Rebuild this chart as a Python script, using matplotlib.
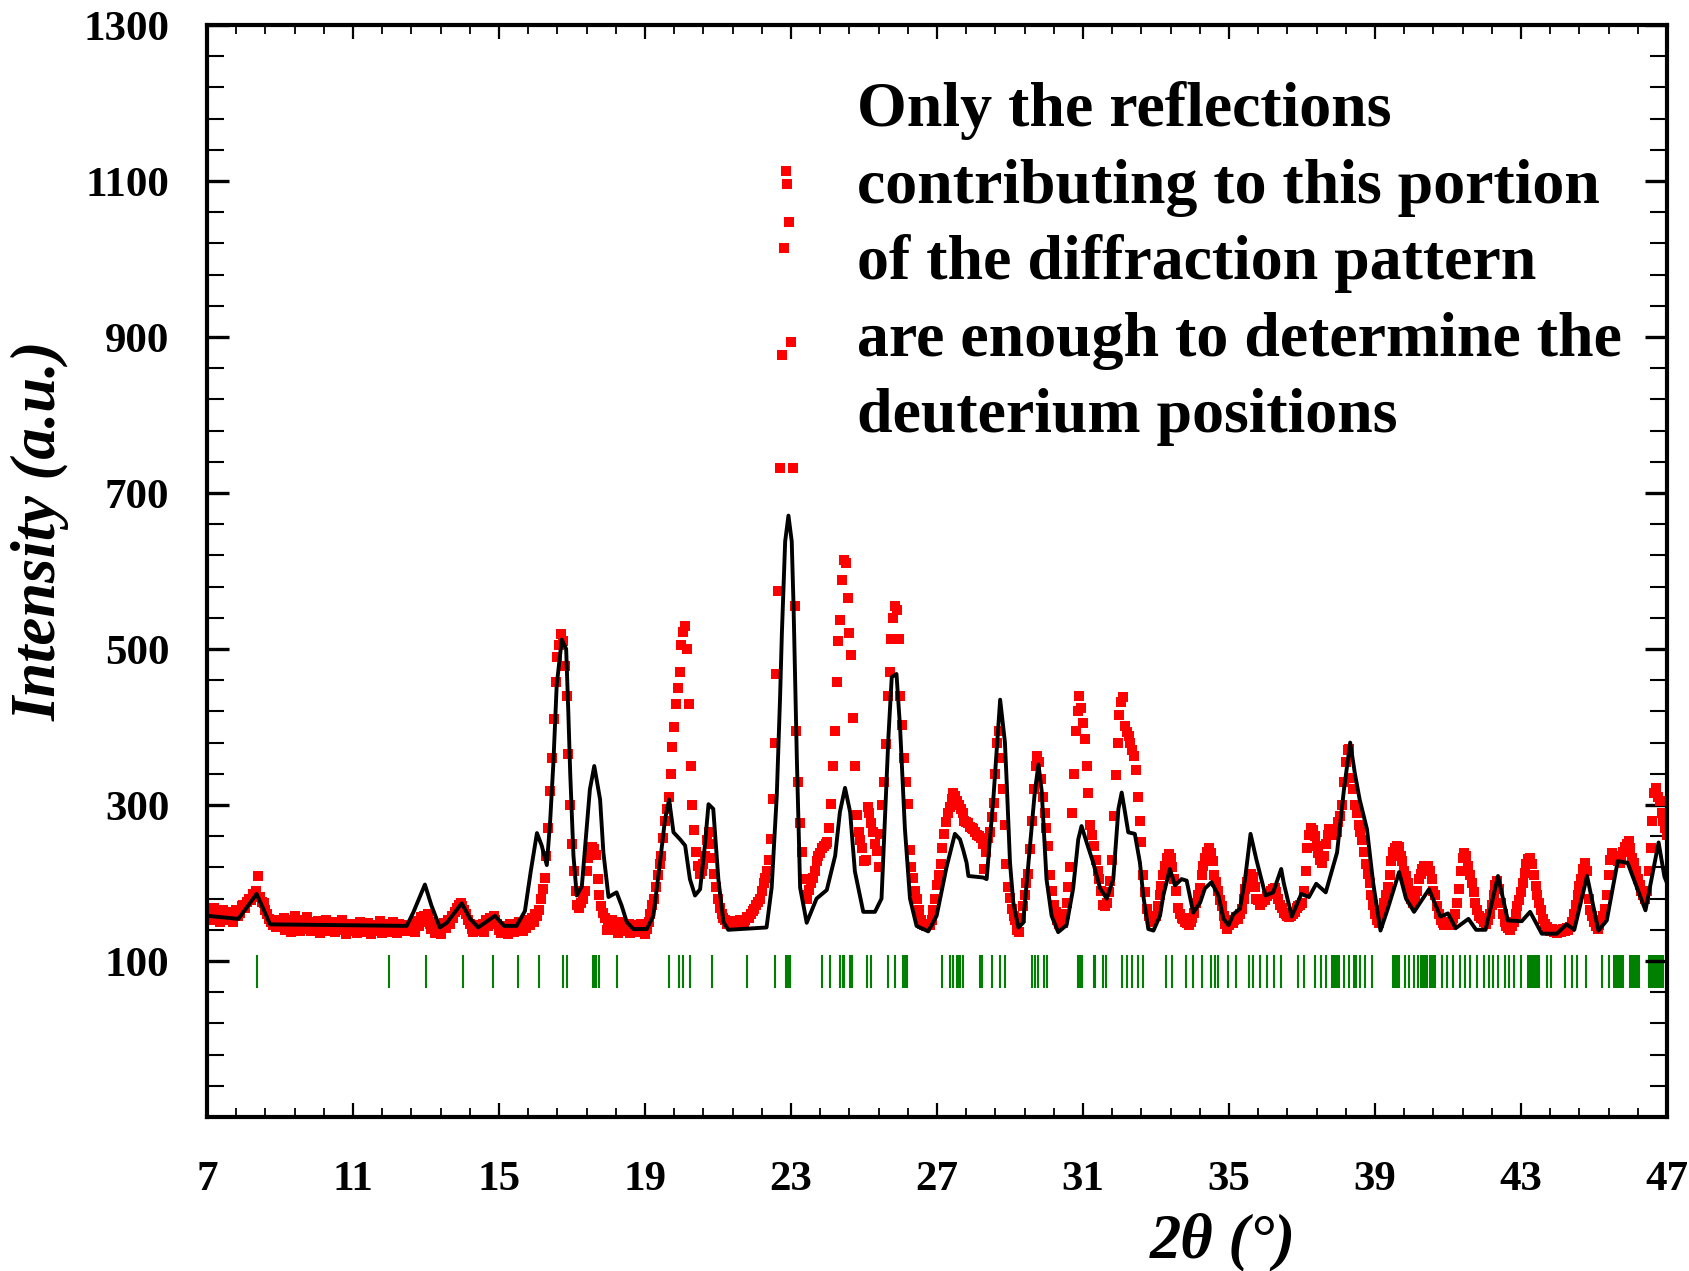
import numpy as np
import matplotlib
matplotlib.use("Agg")
import matplotlib.pyplot as plt
from matplotlib.ticker import FixedLocator

# observed neutron pattern, 7-47 deg in 0.05 deg steps
scan_start, scan_step = 7.0, 0.05
obs_int = [
    158, 165, 152, 160, 168, 155, 162, 150, 158, 166,   # 7.0
    160, 152, 163, 157, 150, 161, 166, 158, 162, 170,
    172, 168, 176, 180, 178, 186, 184, 190, 209, 182,   # 8.0
    176, 175, 166, 160, 154, 150, 146, 152, 144, 148,
    150, 146, 155, 140, 148, 152, 137, 145, 158, 143,   # 9.0
    149, 139, 153, 147, 141, 156, 144, 138, 150, 146,
    142, 151, 136, 148, 144, 153, 139, 147, 141, 150,   # 10.0
    137, 145, 149, 140, 152, 143, 135, 147, 142, 138,
    148, 141, 136, 146, 150, 139, 144, 137, 149, 142,   # 11.0
    135, 146, 140, 144, 138, 151, 136, 143, 147, 139,
    145, 137, 150, 141, 136, 148, 142, 138, 146, 140,   # 12.0
    138, 144, 140, 147, 137, 151, 145, 156, 150, 158,
    154, 160, 148, 141, 150, 136, 146, 140, 135, 144,   # 13.0
    149, 142, 152, 147, 158, 155, 163, 168, 172, 175,
    170, 166, 160, 153, 147, 141, 137, 144, 139, 146,   # 14.0
    141, 148, 137, 152, 145, 155, 150, 158, 152, 147,
    140, 136, 145, 139, 143, 135, 148, 141, 137, 146,   # 15.0
    140, 150, 143, 138, 148, 142, 152, 146, 155, 150,
    160, 158, 165, 180, 192, 206, 235, 270, 318, 360,   # 16.0
    410, 458, 490, 505, 519, 510, 478, 440, 365, 300,
    250, 215, 190, 172, 168, 175, 180, 190, 215, 232,   # 17.0
    240, 246, 244, 236, 205, 185, 170, 162, 155, 140,
    148, 143, 152, 140, 147, 136, 142, 150, 138, 145,   # 18.0
    140, 148, 136, 143, 139, 146, 137, 142, 148, 138,
    135, 141, 150, 160, 172, 180, 195, 210, 225, 235,   # 19.0
    258, 280, 295, 310, 340, 375, 400, 430, 450, 470,
    505, 522, 530, 500, 430, 350, 300, 268, 240, 222,   # 20.0
    212, 215, 225, 235, 255, 266, 250, 232, 212, 195,
    180, 168, 160, 155, 152, 148, 150, 146, 151, 147,   # 21.0
    150, 146, 152, 148, 150, 153, 157, 155, 160, 164,
    167, 172, 176, 180, 190, 200, 207, 215, 230, 256,   # 22.0
    308, 379, 468, 575, 732, 877, 1014, 1113, 1096, 1048,
    893, 732, 555, 395, 330, 277, 240, 205, 185, 180,   # 23.0
    191, 200, 207, 215, 228, 235, 238, 245, 248, 250,
    252, 270, 301, 350, 395, 458, 510, 537, 589, 614,   # 24.0
    610, 565, 520, 492, 412, 350, 287, 265, 255, 245,
    228, 230, 298, 290, 277, 265, 250, 241, 220, 263,   # 25.0
    300, 330, 378, 440, 470, 513, 540, 555, 550, 513,
    440, 402, 360, 330, 301, 242, 220, 207, 190, 180,   # 26.0
    165, 152, 148, 146, 145, 147, 146, 152, 165, 180,
    198, 210, 225, 245, 263, 278, 290, 298, 308, 315,   # 27.0
    312, 305, 300, 295, 290, 280, 278, 277, 272, 270,
    269, 265, 262, 260, 258, 250, 218, 240, 258, 265,   # 28.0
    285, 303, 340, 380, 395, 360, 320, 275, 225, 195,
    181, 167, 158, 152, 140, 137, 155, 170, 184, 200,   # 29.0
    211, 243, 280, 320, 350, 363, 355, 333, 310, 290,
    270, 248, 210, 190, 172, 163, 152, 148, 150, 149,   # 30.0
    160, 175, 195, 220, 290, 340, 395, 420, 440, 425,
    405, 385, 350, 315, 275, 262, 248, 230, 215, 205,   # 31.0
    190, 172, 170, 175, 188, 203, 230, 286, 339, 380,
    415, 432, 438, 401, 393, 388, 380, 370, 363, 345,   # 32.0
    310, 280, 252, 210, 188, 167, 158, 154, 150, 156,
    158, 170, 185, 196, 210, 222, 232, 237, 232, 220,   # 33.0
    205, 190, 168, 160, 155, 154, 150, 149, 146, 150,
    155, 162, 175, 185, 194, 210, 222, 232, 240, 245,   # 34.0
    238, 228, 210, 201, 190, 178, 170, 158, 148, 141,
    146, 150, 149, 152, 156, 154, 160, 167, 180, 192,   # 35.0
    201, 205, 211, 208, 195, 180, 178, 172, 176, 180,
    178, 183, 186, 190, 192, 194, 188, 180, 172, 168,   # 36.0
    162, 160, 158, 156, 158, 160, 163, 168, 170, 172,
    175, 190, 215, 245, 262, 270, 268, 260, 248, 238,   # 37.0
    230, 226, 235, 250, 262, 269, 268, 263, 261, 265,
    278, 286, 300, 330, 355, 370, 372, 335, 320, 300,   # 38.0
    290, 275, 265, 255, 240, 225, 212, 200, 185, 172,
    160, 152, 149, 155, 165, 175, 184, 195, 210, 228,   # 39.0
    240, 245, 248, 246, 235, 228, 215, 209, 200, 190,
    180, 175, 178, 190, 205, 212, 218, 222, 220, 222,   # 40.0
    215, 205, 190, 184, 170, 160, 152, 149, 146, 150,
    148, 146, 150, 155, 160, 175, 192, 215, 232, 238,   # 41.0
    235, 222, 210, 200, 188, 175, 166, 158, 155, 154,
    150, 148, 152, 160, 172, 185, 198, 202, 192, 175,   # 42.0
    160, 150, 145, 142, 140, 145, 150, 160, 170, 178,
    188, 200, 213, 225, 231, 232, 225, 210, 196, 185,   # 43.0
    175, 165, 154, 148, 143, 140, 138, 141, 137, 140,
    136, 139, 137, 141, 138, 142, 140, 143, 150, 160,   # 44.0
    172, 185, 196, 205, 218, 226, 215, 179, 165, 158,
    150, 145, 141, 146, 152, 158, 167, 185, 210, 230,   # 45.0
    239, 235, 232, 228, 226, 230, 240, 246, 250, 254,
    245, 232, 226, 215, 205, 198, 190, 185, 180, 190,   # 46.0
    215, 245, 280, 315, 322, 310, 305, 290, 280, 270,
    262,
]

# calculated profile
calc_2theta = [
    7.0, 7.86, 8.36, 8.73, 12.47, 12.65, 12.97, 13.15, 13.38, 13.57,
    13.98, 14.21, 14.43, 14.89, 15.14, 15.48, 15.71, 15.87, 16.04, 16.17,
    16.31, 16.40, 16.49, 16.58, 16.72, 16.84, 16.90, 16.95, 17.04, 17.13,
    17.27, 17.40, 17.49, 17.61, 17.77, 17.86, 18.0, 18.22, 18.36, 18.50,
    18.68, 19.05, 19.23, 19.41, 19.55, 19.66, 19.78, 19.96, 20.10, 20.23,
    20.37, 20.51, 20.64, 20.74, 20.87, 21.01, 21.15, 21.28, 22.33, 22.47,
    22.61, 22.70, 22.75, 22.84, 22.93, 23.02, 23.07, 23.16, 23.25, 23.43,
    23.70, 23.98, 24.21, 24.34, 24.48, 24.62, 24.75, 24.98, 25.30, 25.48,
    25.67, 25.76, 25.89, 25.99, 26.12, 26.26, 26.44, 26.76, 26.99, 27.26,
    27.49, 27.63, 27.72, 27.81, 27.86, 28.27, 28.36, 28.55, 28.73, 28.86,
    28.91, 29.0, 29.09, 29.23, 29.36, 29.55, 29.68, 29.78, 29.87, 30.0,
    30.14, 30.32, 30.55, 30.73, 30.87, 30.96, 31.10, 31.28, 31.47, 31.65,
    31.83, 31.97, 32.06, 32.15, 32.24, 32.42, 32.56, 32.65, 32.79, 32.93,
    33.11, 33.20, 33.38, 33.52, 33.70, 33.84, 34.02, 34.21, 34.34, 34.52,
    34.71, 34.85, 34.99, 35.12, 35.30, 35.44, 35.59, 35.75, 36.0, 36.21,
    36.43, 36.50, 36.72, 36.98, 37.19, 37.39, 37.65, 37.96, 38.15, 38.32,
    38.45, 38.58, 38.78, 38.95, 39.15, 39.35, 39.66, 39.85, 40.07, 40.48,
    40.79, 41.0, 41.21, 41.56, 41.77, 42.03, 42.37, 42.64, 43.02, 43.25,
    43.57, 43.98, 44.25, 44.46, 44.81, 45.12, 45.35, 45.65, 45.92, 46.41,
    46.77, 46.93, 47.0,
]
calc_int = [
    158, 154, 186, 147, 145, 162, 198, 171, 143, 149,
    174, 154, 143, 158, 145, 145, 164, 215, 264, 248,
    223, 278, 354, 453, 512, 500, 418, 342, 235, 184,
    196, 269, 320, 350, 307, 239, 182, 188, 171, 150,
    141, 141, 158, 226, 282, 307, 265, 256, 248, 205,
    184, 192, 248, 301, 295, 205, 150, 140, 143, 194,
    312, 437, 520, 638, 671, 638, 555, 360, 194, 149,
    180, 191, 235, 291, 322, 291, 215, 163, 163, 180,
    388, 464, 468, 398, 270, 180, 145, 138, 158, 220,
    263, 256, 242, 226, 209, 207, 205, 312, 435, 381,
    329, 226, 175, 143, 149, 248, 317, 352, 317, 205,
    158, 137, 146, 193, 256, 273, 252, 226, 193, 180,
    205, 295, 316, 291, 265, 263, 226, 184, 141, 139,
    158, 184, 218, 197, 205, 203, 162, 175, 193, 201,
    184, 154, 146, 160, 167, 205, 263, 230, 184, 188,
    218, 200, 157, 186, 182, 199, 188, 239, 320, 380,
    340, 307, 269, 200, 139, 167, 214, 180, 163, 192,
    157, 161, 142, 154, 140, 140, 209, 152, 151, 163,
    135, 135, 147, 140, 209, 139, 152, 228, 226, 165,
    252, 208, 200,
]

# reflection positions
bragg_2theta = [
    8.38, 12.0, 13.01, 14.02, 14.84, 15.51, 16.09, 16.74, 16.86, 17.58,
    17.62, 17.66, 17.75, 18.24, 19.66, 19.92, 20.03, 20.22, 20.83, 21.79,
    22.56, 22.87, 22.91, 22.96, 23.84, 24.07, 24.35, 24.42, 24.46, 24.62,
    24.65, 24.68, 25.08, 25.19, 25.67, 25.85, 26.08, 26.13, 26.17, 27.13,
    27.36, 27.43, 27.54, 27.59, 27.63, 27.72, 28.18, 28.23, 28.5, 28.73,
    28.87, 29.6, 29.69, 29.78, 29.92, 30.01, 30.87, 30.92, 30.97, 31.29,
    31.33, 31.56, 31.63, 32.06, 32.2, 32.34, 32.52, 32.64, 33.28, 33.43,
    33.82, 34.01, 34.26, 34.52, 34.62, 34.71, 34.96, 35.2, 35.55, 35.66,
    35.86, 36.05, 36.24, 36.43, 36.9, 37.05, 37.35, 37.53, 37.65, 37.82,
    37.86, 37.9, 37.94, 37.98, 38.02, 38.15, 38.28, 38.42, 38.47, 38.6,
    38.73, 38.92, 39.5, 39.54, 39.58, 39.62, 39.66, 39.81, 39.94, 40.07,
    40.19, 40.26, 40.3, 40.34, 40.38, 40.43, 40.5, 40.55, 40.6, 40.64,
    40.83, 40.96, 41.15, 41.34, 41.47, 41.6, 41.79, 41.98, 42.11, 42.23,
    42.36, 42.55, 42.68, 42.81, 43.0, 43.2, 43.24, 43.28, 43.32, 43.36,
    43.4, 43.44, 43.48, 43.7, 43.83, 44.21, 44.4, 44.53, 44.79, 45.23,
    45.42, 45.56, 45.6, 45.64, 45.68, 45.72, 45.76, 45.8, 46.0, 46.04,
    46.08, 46.12, 46.16, 46.2, 46.24, 46.5, 46.54, 46.58, 46.62, 46.66,
    46.7, 46.74, 46.78, 46.82, 46.86, 46.9,
]

note_lines = [
    "Only the reflections",
    "contributing to this portion",
    "of the diffraction pattern",
    "are enough to determine the",
    "deuterium positions",
]

x_major = np.arange(7, 48, 4)
y_major = np.arange(100, 1301, 200)

obs_2theta = np.round(scan_start + scan_step * np.arange(len(obs_int)), 2)

serif = "Liberation Serif"
W, H = 1690, 1271
fig = plt.figure(figsize=(W / 100, H / 100), dpi=100)
ax = fig.add_axes([207 / W, 1 - 1117 / H, 1460 / W, 1092 / H])

ax.plot(obs_2theta, obs_int, "s", color="#ff0000", ms=6.5, mew=0, zorder=2)
ax.plot(calc_2theta, calc_int, color="black", lw=2.8, zorder=3)
ax.vlines(bragg_2theta, 65, 108, color="#008000", lw=1.5, zorder=1)

ax.set_xlim(7, 47)
ax.set_ylim(-100, 1300)

ax.xaxis.set_major_locator(FixedLocator(x_major))
ax.xaxis.set_minor_locator(FixedLocator(np.arange(7, 47.01, 0.8)))
ax.yaxis.set_major_locator(FixedLocator(y_major))
ax.yaxis.set_minor_locator(FixedLocator(np.arange(-100, 1301, 40)))

ax.tick_params(which="both", direction="in", top=True, right=True)
ax.tick_params(axis="x", which="major", length=10, width=1.6, pad=32)
ax.tick_params(axis="x", which="minor", length=6.5, width=1.3)
ax.tick_params(axis="y", which="major", length=16, width=2.4, pad=27)
ax.tick_params(axis="y", which="minor", length=12, width=1.5)

for lab in ax.get_xticklabels() + ax.get_yticklabels():
    lab.set_fontfamily(serif)
    lab.set_fontweight("bold")
    lab.set_fontsize(31)

for sp in ax.spines.values():
    sp.set_linewidth(3)

fig.text(41 / W, 1 - 531 / H, "Intensity (a.u.)", rotation=90,
         ha="center", va="center", family=serif, fontsize=45,
         fontweight="bold", fontstyle="italic")
fig.text(1223 / W, 1 - 1242 / H, "2θ (°)", ha="center", va="center",
         family=serif, fontsize=45, fontweight="bold", fontstyle="italic")

baselines = [126, 203, 279, 356, 432]
for line, b in zip(note_lines, baselines):
    fig.text(857 / W, 1 - b / H, line, ha="left", va="baseline",
             family=serif, fontsize=46, fontweight="bold")

fig.savefig("out.png", dpi=100)
